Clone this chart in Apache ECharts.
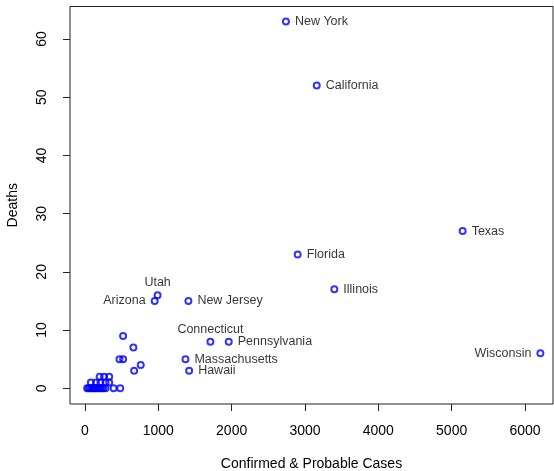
<!DOCTYPE html>
<html>
<head>
<meta charset="utf-8">
<script src="https://cdn.jsdelivr.net/npm/echarts@6/dist/echarts.min.js"></script>
<style>
  html, body { margin: 0; padding: 0; background: #fff; }
  #chart { width: 554px; height: 471px; }
</style>
</head>
<body>
<div id="chart"></div>
<script>
// States with a name label
const stateNames  = ['New York', 'California', 'Texas', 'Florida', 'Illinois', 'New Jersey', 'Utah', 'Arizona', 'Connecticut', 'Pennsylvania', 'Massachusetts', 'Hawaii', 'Wisconsin'];
const stateCases  = [2740, 3160, 5150, 2900, 3400, 1410, 990, 950, 1710, 1960, 1370, 1420, 6210];
const stateDeaths = [63, 52, 27, 23, 17, 15, 16, 15, 8, 8, 5, 3, 6];

// Remaining states, drawn without labels
const otherCases  = [520, 660, 470, 520, 760, 670, 200, 260, 330, 80, 150, 210, 280, 330, 30, 50, 70, 90, 110, 130, 150, 170, 190, 210, 230, 250, 280, 390, 480];
const otherDeaths = [9, 7, 5, 5, 4, 3, 2, 2, 2, 1, 1, 1, 1, 1, 0, 0, 0, 0, 0, 0, 0, 0, 0, 0, 0, 0, 0, 0, 0];

// Axis tick values
const xTicks = [0, 1000, 2000, 3000, 4000, 5000, 6000];
const yTicks = [0, 10, 20, 30, 40, 50, 60];

// Which side each label sits on (default: right of the point)
const labelSide = { 'Arizona': 'left', 'Wisconsin': 'left', 'Utah': 'top', 'Connecticut': 'top' };

const FONT = 'Liberation Sans, Arial, Helvetica, sans-serif';
const INK = '#000';
const AXIS = '#222';
const BLUE = '#0000ff';

const labelled = stateNames.map((n, i) => {
  const side = labelSide[n] || 'right';
  return {
    name: n,
    value: [stateCases[i], stateDeaths[i]],
    label: { position: side, distance: side === 'top' ? 2 : 5 }
  };
});
const unlabelled = otherCases.map((c, i) => [c, otherDeaths[i]]);

const markerStyle = { color: 'rgba(0,0,0,0)', borderColor: BLUE, borderWidth: 2 };
const plain = v => String(v);

const chart = echarts.init(document.getElementById('chart'), null, { renderer: 'canvas' });
chart.setOption({
  animation: false,
  backgroundColor: '#fff',
  grid: {
    show: true, left: 70, top: 6.5, width: 483, height: 397.5,
    containLabel: false, outerBoundsMode: 'none',
    borderColor: AXIS, borderWidth: 1, backgroundColor: 'transparent'
  },
  xAxis: {
    type: 'value', min: -204.5, max: 6382,
    name: 'Confirmed & Probable Cases', nameLocation: 'middle', nameGap: 53,
    nameTextStyle: { fontFamily: FONT, fontSize: 14, color: INK },
    axisLine: { show: false, onZero: false },
    axisTick: { show: true, inside: false, length: 7, customValues: xTicks, lineStyle: { color: AXIS } },
    axisLabel: { customValues: xTicks, formatter: plain, margin: 20, fontFamily: FONT, fontSize: 14, color: INK },
    splitLine: { show: false }
  },
  yAxis: {
    type: 'value', min: -2.7, max: 65.58,
    name: 'Deaths', nameLocation: 'middle', nameGap: 50,
    nameTextStyle: { fontFamily: FONT, fontSize: 14, color: INK },
    axisLine: { show: false, onZero: false },
    axisTick: { show: true, inside: false, length: 7, customValues: yTicks, lineStyle: { color: AXIS } },
    axisLabel: { customValues: yTicks, formatter: plain, rotate: 90, margin: 21, fontFamily: FONT, fontSize: 14, color: INK },
    splitLine: { show: false }
  },
  series: [
    {
      type: 'scatter', symbol: 'circle', symbolSize: 6,
      itemStyle: markerStyle,
      data: unlabelled
    },
    {
      type: 'scatter', symbol: 'circle', symbolSize: 6,
      itemStyle: markerStyle,
      label: {
        show: true, formatter: '{b}',
        fontFamily: FONT, fontSize: 12.5, color: INK
      },
      data: labelled
    }
  ]
});
</script>
</body>
</html>
